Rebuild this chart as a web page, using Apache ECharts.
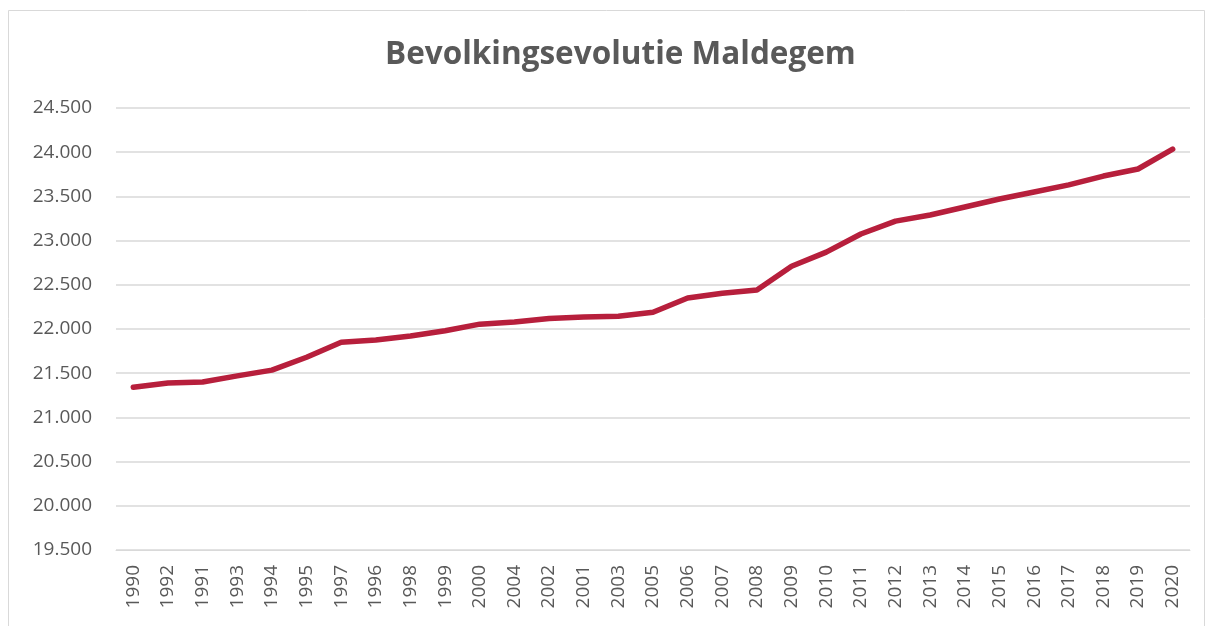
<!DOCTYPE html>
<html lang="nl">
<head>
    <meta charset="UTF-8">
    <title>Bevolkingsevolutie Maldegem</title>
    <script src="https://cdn.jsdelivr.net/npm/echarts@6/dist/echarts.min.js"></script>
    <style>
        html, body { margin: 0; padding: 0; background: #fff; }
    </style>
</head>
<body>
<div id="main" style="width: 1208px;height:626px;"></div>
<script>
    // jaartallen zoals ze in de bron staan (volgorde niet gesorteerd)
    var jaren = ['1990', '1992', '1991', '1993', '1994', '1995', '1997', '1996', '1998', '1999',
        '2000', '2004', '2002', '2001', '2003', '2005', '2006', '2007', '2008', '2009',
        '2010', '2011', '2012', '2013', '2014', '2015', '2016', '2017', '2018', '2019', '2020'];
    // inwoners per jaar
    var inwoners = [21340, 21390, 21400, 21470, 21535, 21680, 21850, 21875, 21920, 21980,
        22055, 22080, 22120, 22135, 22145, 22190, 22350, 22405, 22440, 22710,
        22870, 23075, 23220, 23290, 23380, 23470, 23550, 23630, 23730, 23810, 24035];
    var yMin = 19500;
    var yMax = 24500;
    var yStap = 500;

    var myChart = echarts.init(document.getElementById('main'));

    var option = {
        backgroundColor: '#ffffff',
        animation: false,
        textStyle: { fontFamily: 'Open Sans' },
        title: {
            text: 'Bevolkingsevolutie Maldegem',
            left: 380,
            top: 34,
            textStyle: {
                color: '#595959',
                fontSize: 31.5,
                fontWeight: 'bold',
                fontFamily: 'Open Sans'
            }
        },
        graphic: [{
            type: 'rect',
            shape: { x: 8.5, y: 10.5, width: 1196, height: 620 },
            style: { fill: 'none', stroke: '#d9d9d9', lineWidth: 1 },
            silent: true
        }],
        grid: {
            left: 116,
            right: 18,
            top: 108,
            bottom: 76
        },
        xAxis: {
            type: 'category',
            data: jaren,
            boundaryGap: true,
            axisLine: { lineStyle: { color: '#d9d9d9', width: 1 } },
            axisTick: { show: false },
            axisLabel: {
                rotate: 90,
                interval: 0,
                margin: 15,
                color: '#595959',
                fontSize: 19,
                fontFamily: 'Open Sans'
            }
        },
        yAxis: {
            type: 'value',
            min: yMin,
            max: yMax,
            interval: yStap,
            axisLine: { show: false },
            axisTick: { show: false },
            splitLine: { lineStyle: { color: '#d9d9d9', width: 1.5 } },
            axisLabel: {
                margin: 24,
                color: '#595959',
                fontSize: 19,
                fontFamily: 'Open Sans',
                formatter: function (v) {
                    return String(v).replace(/\B(?=(\d{3})+(?!\d))/g, '.');
                }
            }
        },
        series: [{
            name: 'Inwoners',
            type: 'line',
            data: inwoners,
            showSymbol: false,
            symbol: 'none',
            lineStyle: {
                color: '#b71f3c',
                width: 5.5,
                cap: 'round',
                join: 'round'
            }
        }]
    };
    myChart.setOption(option);
</script>
</body>
</html>
